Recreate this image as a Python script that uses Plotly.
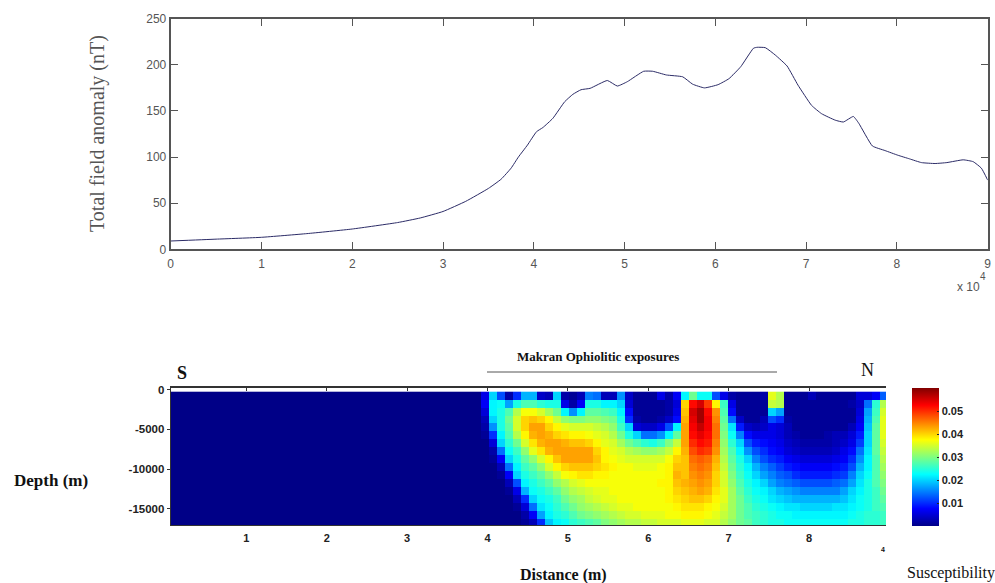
import plotly.graph_objects as go

# Total field anomaly profile (distance in units of 1e4 m, anomaly in nT)
DIST = [0, .5, 1, 1.5, 2, 2.5, 2.75, 3, 3.25, 3.5, 3.64, 3.75, 3.83, 3.93, 4.03, 4.1, 4.21, 4.34, 4.43, 4.52, 4.62,
        4.81, 4.92, 5.03, 5.21, 5.31, 5.46, 5.64, 5.75, 5.88, 6.03, 6.15, 6.28, 6.42, 6.46, 6.55, 6.66, 6.79,
        6.91, 7.06, 7.17, 7.32, 7.41, 7.52, 7.58, 7.73, 7.87, 8.01, 8.14, 8.27, 8.42, 8.55, 8.73, 8.84, 8.93, 9.0]
ANOMALY = [9, 11, 13, 17, 22, 29, 34, 41, 52, 66, 76, 88, 100, 113, 127.5, 132, 142, 160, 168, 173, 174.5,
           183, 177, 181.7, 193, 193, 189, 187, 179, 175, 178.5, 185, 198, 218, 219, 218.6, 210.6, 198.7,
           178, 156, 147, 140, 138, 144, 136.6, 112, 107, 102, 98, 94, 93, 94, 97, 95, 88, 75]
TOP_XTICKS = [0, 1, 2, 3, 4, 5, 6, 7, 8, 9]
TOP_YTICKS = [0, 50, 100, 150, 200, 250]

# Susceptibility section, per depth row, in units of 0.001; the first LEFT_ZEROS columns are background
LEFT_ZEROS = 39
R00 = [6,20,12,2,10,18,18,4,3,20,2,1,3,15,14,3,3,16,4,1,1,1,6,2,7, 22,29,23,23,12,6,2,1,1,1,2,36,33,1,1,1,3,1,1,1,1,1,5,5,7,13]
R01 = [7,22,23,17,24,27,27,25,24,24,6,2,7,24,24,22,22,20,5,1,1,1,1,2,5, 40,52,55,49,38,26,6,1,1,1,1,34,33,1,1,1,1,1,1,1,1,2,4,14,25,33]
R02 = [5,22,24,27,33,37,37,35,32,29,22,16,22,28,28,27,26,22,8,1,1,1,1,2,6, 41,55,58,52,44,27,8,1,1,1,1,20,17,1,1,1,1,1,1,1,1,1,5,17,26,35]
R03 = [3,20,24,29,35,40,41,40,38,34,31,30,30,31,31,30,29,24,10,2,1,1,2,4,8, 42,54,58,53,45,28,14,4,1,1,3,12,10,2,1,1,1,1,1,1,1,1,6,18,27,36]
R04 = [2,16,24,28,35,40,43,43,40,38,36,35,35,35,34,33,31,26,20,5,4,4,6,12,22, 43,53,56,53,46,29,21,9,4,3,4,6,5,3,1,1,1,1,1,1,1,3,7,19,28,36]
R05 = [1,10,22,27,33,38,42,43,42,40,39,38,38,37,36,35,33,29,24,20,14,14,16,22,28, 43,52,54,52,46,30,23,15,8,6,6,6,5,3,2,1,1,1,2,3,3,5,9,20,28,36]
R06 = [0,5,20,25,29,35,39,42,43,43,42,41,41,40,38,36,35,32,29,27,25,24,26,30,34, 43,50,52,51,45,31,25,20,12,9,8,7,6,4,3,2,2,2,2,3,4,6,11,20,28,35]
R07 = [0,2,14,23,26,31,36,39,42,43,43,43,43,43,40,38,36,35,33,32,31,31,32,34,38, 42,48,50,49,44,32,27,22,16,12,10,8,7,5,4,3,3,3,3,4,6,8,14,21,28,34]
R08 = [0,1,7,20,24,28,31,35,38,41,43,43,43,43,41,38,37,36,35,35,35,35,35,37,40, 41,46,47,46,42,33,28,24,20,15,12,10,9,7,6,5,5,5,5,6,7,10,16,22,27,33]
R09 = [0,0,3,14,22,26,28,31,35,38,40,41,41,41,40,39,38,37,37,36,36,36,37,38,41, 41,45,46,45,41,34,29,25,22,18,15,13,11,9,8,7,7,7,7,8,9,12,18,22,27,32]
R10 = [0,0,1,7,20,24,26,28,31,34,37,38,39,39,38,38,37,37,37,37,37,37,37,38,42, 41,44,45,44,40,35,30,26,23,20,17,15,13,12,10,9,9,9,9,10,11,15,20,23,27,31]
R11 = [0,0,0,3,12,22,24,26,28,31,33,35,36,37,37,37,37,37,37,37,37,37,38,38,41, 42,43,44,43,40,35,31,27,24,22,20,17,15,14,13,12,12,12,12,13,14,17,21,24,27,30]
R12 = [0,0,0,1,6,18,23,24,26,28,31,33,34,35,36,36,37,37,37,37,37,37,37,38,40, 41,42,43,42,39,36,32,28,25,23,22,20,18,17,16,15,15,15,15,15,17,20,22,24,26,29]
R13 = [0,0,0,0,3,10,20,23,24,26,29,31,32,34,35,36,36,37,37,37,37,37,37,38,39, 40,41,41,40,38,36,32,29,26,24,23,21,20,19,18,18,18,18,18,18,19,21,23,24,26,28]
R14 = [0,0,0,0,1,5,14,21,23,25,27,29,31,32,33,34,35,36,36,37,37,37,37,37,38, 39,39,39,38,37,35,32,29,27,25,24,23,22,21,21,20,20,20,20,21,21,22,23,24,26,27]
R15 = [0,0,0,0,0,2,7,17,22,24,25,27,29,30,31,32,33,34,35,35,36,36,36,37,37, 38,38,38,37,36,34,32,29,27,26,25,24,23,23,22,22,22,22,22,22,22,23,24,25,25,26]
R16 = [0,0,0,0,0,1,3,10,19,22,23,25,26,27,28,30,31,32,33,33,34,34,35,35,35, 36,36,36,35,35,33,31,29,28,26,25,24,24,23,23,23,23,23,23,23,23,24,24,25,25,26]
ROWS = [R00, R01, R02, R03, R04, R05, R06, R07, R08, R09, R10, R11, R12, R13, R14, R15, R16]
assert all(len(r) == 51 for r in ROWS), [len(r) for r in ROWS]
SECTION_XTICKS = [10000, 20000, 30000, 40000, 50000, 60000, 70000, 80000]
SECTION_XLABELS = ["1", "2", "3", "4", "5", "6", "7", "8"]
SECTION_YTICKS = [0, -5000, -10000, -15000]
SECTION_YLABELS = ["0", "-5000", "-10000", "-15000"]
CBAR_TICKS = [0.01, 0.02, 0.03, 0.04, 0.05]

W, H = 995, 583
px = lambda x: x / W
py = lambda y: 1 - y / H
SANS = "Liberation Sans"
SERIF = "Liberation Serif"
JET = [[0, "rgb(0,0,135)"], [0.125, "rgb(0,0,255)"], [0.375, "rgb(0,255,255)"], [0.625, "rgb(255,255,0)"],
       [0.875, "rgb(255,0,0)"], [1, "rgb(128,0,0)"]]

z = [[0] * LEFT_ZEROS + [v / 1000 for v in r] for r in ROWS]

fig = go.Figure()
fig.add_trace(go.Scatter(x=DIST, y=ANOMALY, mode="lines", line=dict(color="#2b2b66", width=1, shape="spline", smoothing=0.4),
                         xaxis="x", yaxis="y", showlegend=False))
fig.add_trace(go.Heatmap(z=z, x0=590 + 991 / 2, dx=991, y0=-777, dy=-1000, zmin=0, zmax=0.06, colorscale=JET,
                         xaxis="x2", yaxis="y2", zsmooth=False,
                         colorbar=dict(thickness=27, lenmode="pixels", len=138, x=px(911.7), xanchor="left", xpad=0, ypad=0,
                                       y=py(388), yanchor="top", outlinewidth=0, tickvals=CBAR_TICKS,
                                       ticktext=[f"{t:.2f}" for t in CBAR_TICKS], ticks="inside", ticklen=2, tickcolor="#222",
                                       tickfont=dict(family=SANS, size=11, color="#222", weight="bold"))))
# carries the section's tick marks along its upper edge
fig.add_trace(go.Scatter(x=[], y=[], xaxis="x3", yaxis="y2", showlegend=False, hoverinfo="skip"))

top_common = dict(showgrid=False, zeroline=False, showline=True, linecolor="#555", linewidth=2, mirror="allticks",
                  ticks="inside", ticklen=7, tickcolor="#555", tickwidth=1,
                  tickfont=dict(family=SANS, size=12, color="#555"))
fig.update_layout(
    width=W, height=H, margin=dict(l=0, r=0, t=0, b=0, autoexpand=False), autosize=False,
    paper_bgcolor="white", plot_bgcolor="white", showlegend=False,
    xaxis=dict(domain=[px(170.7), px(987.7)], range=[0, 9], tickvals=TOP_XTICKS, anchor="y", ticklabelstandoff=2, **top_common),
    yaxis=dict(domain=[py(249.3), py(18.7)], range=[0, 250], tickvals=TOP_YTICKS, anchor="x", **top_common),
    xaxis2=dict(domain=[px(170.7), px(886)], range=[590, 89570], tickvals=SECTION_XTICKS, ticktext=SECTION_XLABELS,
                anchor="y2", showgrid=False, zeroline=False, showline=True, linecolor="#333", linewidth=1,
                ticks="outside", ticklen=2, tickcolor="rgba(0,0,0,0)",
                tickfont=dict(family=SANS, size=11, color="#222", weight="bold")),
    yaxis2=dict(domain=[py(525.3), py(388)], range=[-17080, 190], tickvals=SECTION_YTICKS, ticktext=SECTION_YLABELS,
                anchor="x2", showgrid=False, zeroline=False, showline=True, linecolor="#333", linewidth=1,
                ticks="outside", ticklen=3, tickcolor="#333",
                tickfont=dict(family=SANS, size=11.5, color="#222", weight="bold")),
    xaxis3=dict(domain=[px(170.7), px(886)], range=[590, 89570], tickvals=SECTION_XTICKS, overlaying="x2", side="top",
                anchor="y2", showticklabels=False, showgrid=False, zeroline=False, showline=True, linecolor="#333",
                linewidth=2, ticks="inside", ticklen=3, tickcolor="#333"),
)

def label(text, x, y, family=SERIF, size=14, color="#111", bold=False, angle=0, anchor="center"):
    fig.add_annotation(text=text, x=px(x), y=py(y), xref="paper", yref="paper", showarrow=False, textangle=angle,
                       xanchor=anchor, yanchor="middle",
                       font=dict(family=family, size=size, color=color, weight="bold" if bold else "normal"))

label("Total field anomaly (nT)", 97, 134, size=20, color="#555", angle=-90)
label("x 10", 968, 287, family=SANS, size=12, color="#555")
label("4", 983, 276, family=SANS, size=10, color="#555")
label("S", 181.5, 373, size=18, bold=True)
label("N", 867, 370, size=18)
label("Makran Ophiolitic exposures", 598, 356, size=13, bold=True)
label("Depth (m)", 51, 481, size=17, bold=True)
label("Distance (m)", 563, 575, size=16, bold=True)
label("Susceptibility", 951, 573, size=16)
label("4", 883, 549, family=SANS, size=7, bold=True)

fig.add_shape(type="line", xref="paper", yref="paper", x0=px(487), x1=px(777), y0=py(372), y1=py(372),
              line=dict(color="#555", width=1))

fig.write_html("out.html", config=dict(displayModeBar=False), post_script="document.body.style.margin='0';")
